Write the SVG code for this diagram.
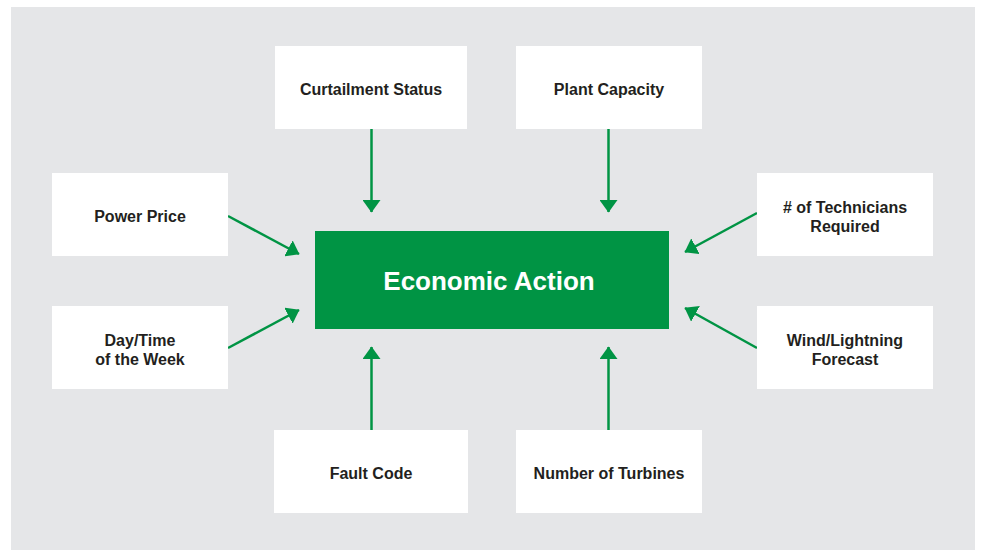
<svg xmlns="http://www.w3.org/2000/svg" width="981" height="550" viewBox="0 0 981 550">
  <defs>
    <marker id="arrow" markerUnits="userSpaceOnUse" markerWidth="13" markerHeight="18" refX="12" refY="9" orient="auto">
      <path d="M0,0 L12.5,9 L0,18 Z" fill="#009444"/>
    </marker>
    <style>
      .box { fill: #ffffff; }
      .lbl { font-family: "Liberation Sans", Arial, sans-serif; font-weight: bold; font-size: 16px; fill: #231f20; text-anchor: middle; }
      .main { font-family: "Liberation Sans", Arial, sans-serif; font-weight: bold; font-size: 26px; fill: #ffffff; text-anchor: middle; }
      .conn { stroke: #009444; stroke-width: 2.5; fill: none; marker-end: url(#arrow); }
    </style>
  </defs>
  <rect width="981" height="550" fill="#ffffff"/>
  <rect x="11" y="7" width="964" height="543" fill="#e5e6e8"/>

  <g id="connectors">
    <line class="conn" x1="371.5" y1="129" x2="371.5" y2="212"/>
    <line class="conn" x1="608.5" y1="129" x2="608.5" y2="212"/>
    <line class="conn" x1="371.5" y1="430" x2="371.5" y2="347"/>
    <line class="conn" x1="608.5" y1="430" x2="608.5" y2="347"/>
    <line class="conn" x1="228" y1="216" x2="299" y2="254"/>
    <line class="conn" x1="228" y1="348" x2="299" y2="310"/>
    <line class="conn" x1="757" y1="213" x2="685" y2="252"/>
    <line class="conn" x1="757" y1="348" x2="685" y2="308"/>
  </g>

  <g id="economic-action">
    <rect x="315" y="231" width="354" height="98" fill="#009444"/>
    <text class="main" x="489" y="290">Economic Action</text>
  </g>

  <g id="curtailment-status">
    <rect class="box" x="275" y="46" width="192" height="83"/>
    <text class="lbl" x="371" y="95">Curtailment Status</text>
  </g>

  <g id="plant-capacity">
    <rect class="box" x="516" y="46" width="186" height="83"/>
    <text class="lbl" x="609" y="95">Plant Capacity</text>
  </g>

  <g id="power-price">
    <rect class="box" x="52" y="173" width="176" height="83"/>
    <text class="lbl" x="140" y="222">Power Price</text>
  </g>

  <g id="day-time">
    <rect class="box" x="52" y="306" width="176" height="83"/>
    <text class="lbl" x="140" y="346">Day/Time</text>
    <text class="lbl" x="140" y="365">of the Week</text>
  </g>

  <g id="technicians">
    <rect class="box" x="757" y="173" width="176" height="83"/>
    <text class="lbl" x="845" y="213"># of Technicians</text>
    <text class="lbl" x="845" y="232">Required</text>
  </g>

  <g id="wind-lightning">
    <rect class="box" x="757" y="306" width="176" height="83"/>
    <text class="lbl" x="845" y="346">Wind/Lightning</text>
    <text class="lbl" x="845" y="365">Forecast</text>
  </g>

  <g id="fault-code">
    <rect class="box" x="274" y="430" width="194" height="83"/>
    <text class="lbl" x="371" y="479">Fault Code</text>
  </g>

  <g id="number-of-turbines">
    <rect class="box" x="516" y="430" width="186" height="83"/>
    <text class="lbl" x="609" y="479">Number of Turbines</text>
  </g>
</svg>
